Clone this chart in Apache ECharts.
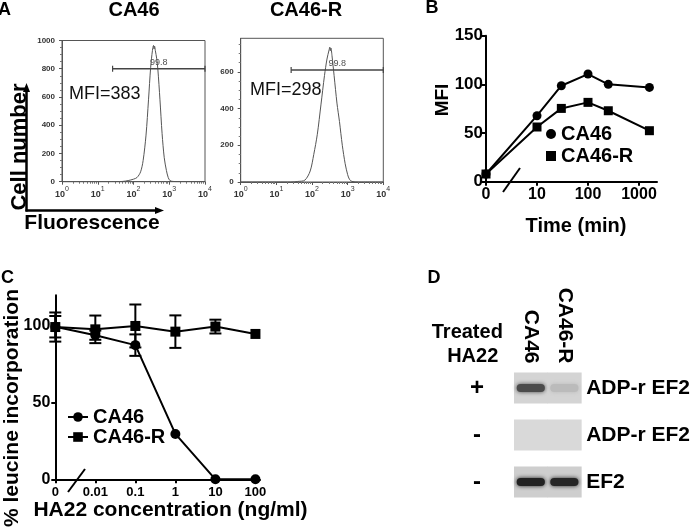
<!DOCTYPE html>
<html><head><meta charset="utf-8">
<script src="https://cdn.jsdelivr.net/npm/echarts@6/dist/echarts.min.js"></script>
<style>html,body{margin:0;padding:0;background:#fff}#c{width:693px;height:532px}</style>
</head><body><div id="c"></div>
<script>
// ---------- Panel A: flow histograms [fluorescence, cell count] ----------
const histCA46 = [[1,0],[32,0],[50,2],[71,8],[100,18],[126,30],[158,70],[186,150],[224,330],[263,580],[302,810],[339,930],[363,965],[376,940],[389,960],[407,930],[447,870],[479,800],[550,580],[631,340],[724,170],[832,80],[933,30],[1047,8],[1259,2],[1995,0],[10000,0]];
const histCA46R = [[1,0],[25,0],[40,3],[63,10],[89,60],[112,150],[141,260],[178,420],[224,580],[263,670],[302,720],[316,735],[327,715],[339,730],[363,690],[417,580],[501,430],[589,330],[708,200],[851,100],[1000,40],[1122,15],[1318,3],[1995,0],[10000,0]];
const panelTitlesA = ['CA46', 'CA46-R'];
const mfiA = [383, 298];
const gateLow = [26, 26];
const gateHigh = [10000, 10000];
const gateLevel = [800, 610];
const gatePct = ['99.8', '99.8'];
const yTicksA2 = [0, 200, 400, 600];

// ---------- Panel B: MFI vs time ----------
const timeMin = [0, 10, 30, 100, 250, 1600];
const mfiCA46 = [7.9, 67.8, 98.6, 110.6, 100, 96.9];
const mfiCA46R = [7.9, 56.2, 75.3, 81.5, 72.9, 52.4];
const xTicksB = [0, 10, 100, 1000];
const yTicksB = [0, 50, 100, 150];

// ---------- Panel C: leucine incorporation vs HA22 ----------
const concNgMl = [0, 0.01, 0.1, 1, 10, 100];
const leuCA46 = [99.5, 94, 87.5, 29.6, 0, 0];
const leuCA46Err = [7, 3, 7, 0, 0, 0];
const leuCA46R = [99.3, 97.8, 100, 96.3, 99.6, 94.8];
const leuCA46RErr = [9.5, 9, 14, 10.6, 4.5, 0];
const xTicksC = [0, 0.01, 0.1, 1, 10, 100];
const yTicksC = [0, 50, 100];

// ---------- Panel D: western blot ----------
const blotLanes = ['CA46', 'CA46-R'];
const blotTreatment = ['+', '-', '-'];
const blotProbe = ['ADP-r EF2', 'ADP-r EF2', 'EF2'];
const bandCA46 = [0.72, 0, 0.95];
const bandCA46R = [0.1, 0, 0.93];

// ---------- helpers ----------
const FONT = 'Liberation Sans';
const posB = t => t === 0 ? 0 : Math.log10(t);     // axis break: 0 sits at origin
const posC = c => c === 0 ? -3 : Math.log10(c);
const fmtFrom = (ticks, pos) => v => {
  const i = ticks.findIndex(t => Math.abs(pos(t) - v) < 1e-6);
  return i >= 0 ? String(ticks[i]) : '';
};
const blotBg = ['#d4d4d4', '#d9d9d9', '#cecece'];

const chart = echarts.init(document.getElementById('c'));

function axisA(grid, max, custom) {
  const y = {
    type: 'value', gridIndex: grid, min: 0, max: max, interval: 200,
    axisLine: {show: true, onZero: false, lineStyle: {color: '#555', width: 1}},
    axisTick: {show: true, length: 3, lineStyle: {color: '#555'}},
    minorTick: {show: true, splitNumber: 4, length: 2, lineStyle: {color: '#777'}},
    splitLine: {show: false},
    axisLabel: {fontSize: 8, fontWeight: 'bold', color: '#333', margin: 7, fontFamily: FONT, formatter: v => String(v)}
  };
  if (custom) { y.axisLabel.customValues = custom; y.axisTick.customValues = custom; }
  return y;
}
function xAxisA(grid) {
  return {
    type: 'log', logBase: 10, gridIndex: grid, min: 1, max: 10000,
    axisLine: {show: true, onZero: false, lineStyle: {color: '#555', width: 1}},
    axisTick: {show: true, length: 3, lineStyle: {color: '#555'}},
    minorTick: {show: true, splitNumber: 9, length: 2, lineStyle: {color: '#777'}},
    splitLine: {show: false}, minorSplitLine: {show: false},
    axisLabel: {
      margin: 4, color: '#333', fontFamily: FONT,
      formatter: v => '{b|10}{s|' + Math.round(Math.log10(v)) + '}',
      rich: {
        b: {fontSize: 9, fontWeight: 'bold', color: '#333', lineHeight: 13, verticalAlign: 'bottom', fontFamily: FONT},
        s: {fontSize: 7, color: '#333', lineHeight: 13, verticalAlign: 'top', fontFamily: FONT}
      }
    }
  };
}
const blackAxis = {onZero: false, lineStyle: {color: '#000', width: 2}};

function errRender(params, api) {
  const x = api.value(0), lo = api.value(1), hi = api.value(2);
  const a = api.coord([x, lo]), b = api.coord([x, hi]);
  const w = 6, st = {stroke: '#000', lineWidth: 2};
  return {type: 'group', children: [
    {type: 'line', shape: {x1: a[0], y1: a[1], x2: b[0], y2: b[1]}, style: st},
    {type: 'line', shape: {x1: a[0] - w, y1: a[1], x2: a[0] + w, y2: a[1]}, style: st},
    {type: 'line', shape: {x1: b[0] - w, y1: b[1], x2: b[0] + w, y2: b[1]}, style: st}
  ]};
}
function blotRender(params, api) {
  const lane = api.value(0), row = api.value(1), it = api.value(2);
  const c = api.coord([lane, row]);
  const sz = api.size([1, 1]);
  const bgH = 31;
  const children = [{type: 'rect', shape: {x: c[0] - sz[0] / 2, y: c[1] - bgH / 2, width: sz[0] + 0.5, height: bgH},
    style: {fill: blotBg[row]}}];
  if (it > 0.02) {
    const g = Math.round(205 - it * 180);
    const col = 'rgb(' + g + ',' + g + ',' + g + ')';
    children.push({type: 'rect', shape: {x: c[0] - sz[0] * 0.42, y: c[1] - 4, width: sz[0] * 0.84, height: 8, r: 4},
      style: {fill: col, shadowBlur: 4, shadowColor: col}});
  }
  return {type: 'group', children: children};
}

const errCA46 = [], errCA46R = [];
concNgMl.forEach((c, i) => {
  if (leuCA46Err[i] > 0) errCA46.push([posC(c), leuCA46[i] - leuCA46Err[i], leuCA46[i] + leuCA46Err[i]]);
  if (leuCA46RErr[i] > 0) errCA46R.push([posC(c), leuCA46R[i] - leuCA46RErr[i], leuCA46R[i] + leuCA46RErr[i]]);
});
const blotCells = [];
blotTreatment.forEach((_, r) => {
  blotCells.push([0, r, bandCA46[r]]);
  blotCells.push([1, r, bandCA46R[r]]);
});

const t = (text, x, y, size, extra) => Object.assign({
  type: 'text', x: x, y: y,
  style: {text: text, fontSize: size, fontWeight: 'bold', fontFamily: FONT, fill: '#000', align: 'center', verticalAlign: 'middle'}
}, extra || {});
const R = Math.PI / 2;

const option = {
  animation: false,
  textStyle: {fontFamily: FONT},
  grid: [
    {left: 62, top: 40.5, width: 143, height: 141.2, show: true, borderColor: '#555', borderWidth: 1},
    {left: 240.7, top: 38.3, width: 142.6, height: 143.7, show: true, borderColor: '#555', borderWidth: 1},
    {left: 486, top: 35.7, width: 171, height: 146},
    {left: 55.3, top: 295.3, width: 204.7, height: 184},
    {left: 514, top: 364.5, width: 70, height: 141}
  ],
  xAxis: [
    xAxisA(0), xAxisA(1),
    {type: 'value', gridIndex: 2, min: 0, max: 3.353,
      axisLine: blackAxis, splitLine: {show: false},
      axisTick: {length: 4, lineStyle: {color: '#000', width: 2}, customValues: xTicksB.map(posB)},
      axisLabel: {customValues: xTicksB.map(posB), formatter: fmtFrom(xTicksB, posB), fontSize: 16, fontWeight: 'bold', color: '#000', margin: 5}},
    {type: 'value', gridIndex: 3, min: -3, max: Math.log10(130),
      axisLine: blackAxis, splitLine: {show: false},
      axisTick: {length: 4, lineStyle: {color: '#000', width: 2}, customValues: xTicksC.map(posC)},
      axisLabel: {customValues: xTicksC.map(posC), formatter: fmtFrom(xTicksC, posC), fontSize: 13, fontWeight: 'bold', color: '#000', margin: 7}},
    {type: 'category', gridIndex: 4, position: 'top', data: blotLanes,
      axisLine: {show: false}, axisTick: {show: false},
      axisLabel: {rotate: 90, fontSize: 21, fontWeight: 'bold', color: '#000', margin: 1}}
  ],
  yAxis: [
    axisA(0, 1000),
    axisA(1, 783, yTicksA2),
    {type: 'value', gridIndex: 2, min: 0, max: 150, interval: 50,
      axisLine: {show: true, onZero: false, lineStyle: {color: '#000', width: 2}}, splitLine: {show: false},
      axisTick: {show: true, length: 4, lineStyle: {color: '#000', width: 2}, customValues: yTicksB},
      axisLabel: {customValues: yTicksB, fontSize: 17, fontWeight: 'bold', color: '#000', margin: 3}},
    {type: 'value', gridIndex: 3, min: 0, max: 120, interval: 50,
      axisLine: {show: true, onZero: false, lineStyle: {color: '#000', width: 2}}, splitLine: {show: false},
      axisTick: {show: true, length: 4, lineStyle: {color: '#000', width: 2}, customValues: yTicksC},
      axisLabel: {customValues: yTicksC, fontSize: 16, fontWeight: 'bold', color: '#000', margin: 5}},
    {type: 'category', gridIndex: 4, inverse: true, data: blotTreatment,
      axisLine: {show: false}, axisTick: {show: false},
      axisLabel: {align: 'center', margin: 37, fontSize: 24, fontWeight: 'bold', color: '#000'}},
    {type: 'category', gridIndex: 4, inverse: true, position: 'right', data: blotProbe,
      axisLine: {show: false}, axisTick: {show: false},
      axisLabel: {align: 'left', margin: 5, fontSize: 21, fontWeight: 'bold', color: '#000'}}
  ],
  legend: [
    {orient: 'vertical', left: 546, top: 124, padding: 0, itemWidth: 10, itemHeight: 10, itemGap: 2, selectedMode: false,
      data: [{name: 'CA46', icon: 'circle'}, {name: 'CA46-R', icon: 'rect'}],
      textStyle: {fontSize: 20, fontWeight: 'bold', color: '#000', lineHeight: 20, fontFamily: FONT}},
    {orient: 'vertical', left: 67, top: 407, padding: 0, itemWidth: 20, itemHeight: 12, itemGap: 0, selectedMode: false,
      data: ['CA46', 'CA46-R'],
      textStyle: {fontSize: 20, fontWeight: 'bold', color: '#000', lineHeight: 19, fontFamily: FONT}}
  ],
  series: [
    // Panel A
    {name: 'histA1', type: 'line', xAxisIndex: 0, yAxisIndex: 0, data: histCA46, showSymbol: false, smooth: 0.3,
      lineStyle: {color: '#555', width: 1}, silent: true},
    {name: 'histA2', type: 'line', xAxisIndex: 1, yAxisIndex: 1, data: histCA46R, showSymbol: false, smooth: 0.3,
      lineStyle: {color: '#555', width: 1}, silent: true},
    ...[0, 1].map(k => ({name: 'gate' + k, type: 'line', xAxisIndex: k, yAxisIndex: k,
      data: [[gateLow[k], gateLevel[k]], [gateHigh[k], gateLevel[k]]],
      symbol: 'rect', symbolSize: [1.2, 6], itemStyle: {color: '#444'}, lineStyle: {color: '#444', width: 1.5}, silent: true})),
    ...[0, 1].map(k => ({name: 'gateLabel' + k, type: 'scatter', xAxisIndex: k, yAxisIndex: k,
      data: [[Math.sqrt(gateLow[k] * gateHigh[k]), gateLevel[k]]], symbolSize: 0, silent: true,
      label: {show: true, position: 'top', distance: 2, formatter: gatePct[k], fontSize: 9, color: '#222'}})),
    // Panel B
    {name: 'CA46', type: 'line', xAxisIndex: 2, yAxisIndex: 2, data: timeMin.map((v, i) => [posB(v), mfiCA46[i]]),
      symbol: 'circle', symbolSize: 9, itemStyle: {color: '#000'}, lineStyle: {color: '#000', width: 2}, z: 3},
    {name: 'CA46-R', type: 'line', xAxisIndex: 2, yAxisIndex: 2, data: timeMin.map((v, i) => [posB(v), mfiCA46R[i]]),
      symbol: 'rect', symbolSize: 9, itemStyle: {color: '#000'}, lineStyle: {color: '#000', width: 2}, z: 3},
    // Panel C
    {name: 'CA46', type: 'line', xAxisIndex: 3, yAxisIndex: 3, data: concNgMl.map((v, i) => [posC(v), leuCA46[i]]),
      symbol: 'circle', symbolSize: 10, itemStyle: {color: '#000'}, lineStyle: {color: '#000', width: 2}, z: 3},
    {name: 'CA46-R', type: 'line', xAxisIndex: 3, yAxisIndex: 3, data: concNgMl.map((v, i) => [posC(v), leuCA46R[i]]),
      symbol: 'rect', symbolSize: 10, itemStyle: {color: '#000'}, lineStyle: {color: '#000', width: 2}, z: 3},
    {name: 'errCA46', type: 'custom', xAxisIndex: 3, yAxisIndex: 3, data: errCA46, renderItem: errRender, silent: true},
    {name: 'errCA46R', type: 'custom', xAxisIndex: 3, yAxisIndex: 3, data: errCA46R, renderItem: errRender, silent: true},
    // Panel D
    {name: 'blot', type: 'custom', xAxisIndex: 4, yAxisIndex: 4, data: blotCells, renderItem: blotRender, silent: true}
  ],
  graphic: [
    t('A', 4.5, 10.5, 18),
    t(panelTitlesA[0], 134, 10.5, 20),
    t(panelTitlesA[1], 306, 10.5, 20),
    t('B', 432, 8.5, 18),
    t('C', 7.5, 278, 18),
    t('D', 434, 278, 18),
    {type: 'text', x: 69, y: 94, style: {text: 'MFI=' + mfiA[0], fontSize: 18, fontFamily: FONT, fill: '#111', align: 'left', verticalAlign: 'middle'}},
    {type: 'text', x: 250, y: 90, style: {text: 'MFI=' + mfiA[1], fontSize: 18, fontFamily: FONT, fill: '#111', align: 'left', verticalAlign: 'middle'}},
    t('Cell number', 19.5, 147, 22, {rotation: R}),
    t('Fluorescence', 92, 223, 21),
    {type: 'line', shape: {x1: 26.5, y1: 211.5, x2: 26.5, y2: 90}, style: {stroke: '#000', lineWidth: 2.5}},
    {type: 'polygon', shape: {points: [[26.5, 83], [23, 92], [30, 92]]}, style: {fill: '#000'}},
    {type: 'line', shape: {x1: 25.5, y1: 210.5, x2: 157, y2: 210.5}, style: {stroke: '#000', lineWidth: 2.5}},
    {type: 'polygon', shape: {points: [[164, 210.5], [155, 207], [155, 214]]}, style: {fill: '#000'}},
    t('MFI', 442.5, 100, 19, {rotation: R}),
    t('Time (min)', 576, 226.5, 20),
    {type: 'line', shape: {x1: 503, y1: 192, x2: 520, y2: 168}, style: {stroke: '#000', lineWidth: 2}},
    t('% leucine incorporation', 12, 408, 21, {rotation: R}),
    t('HA22 concentration (ng/ml)', 170.5, 510, 21),
    {type: 'line', shape: {x1: 68, y1: 492, x2: 85, y2: 469}, style: {stroke: '#000', lineWidth: 2}},
    t('Treated', 467.3, 332.7, 20),
    t('HA22', 472.7, 356.7, 20)
  ]
};
chart.setOption(option);
</script>
</body></html>
